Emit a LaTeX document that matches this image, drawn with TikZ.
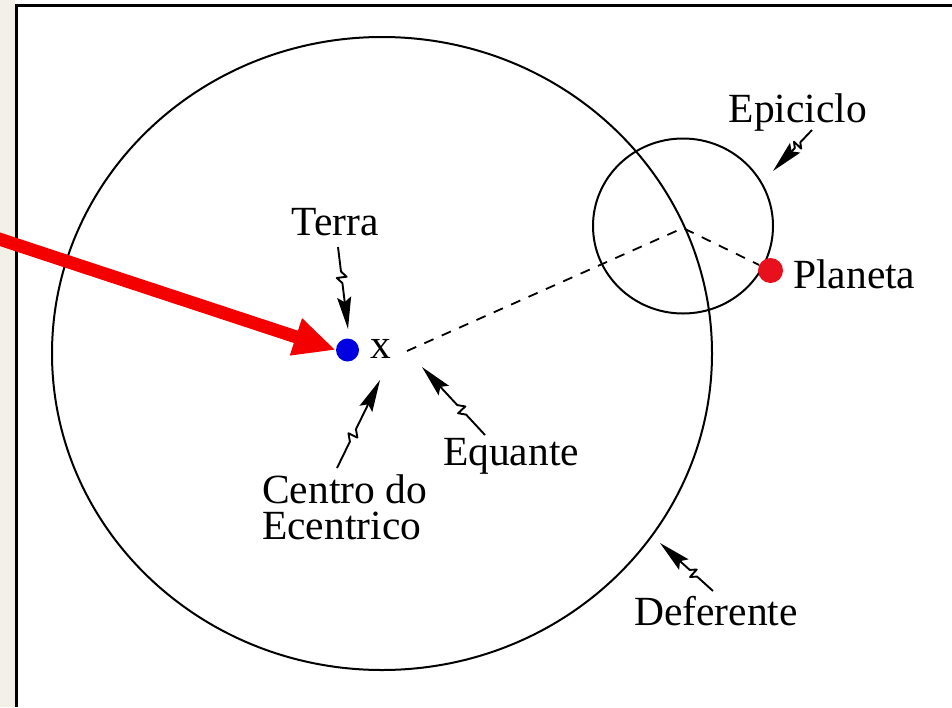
\documentclass[tikz,border=0pt]{standalone}
\usepackage{fontspec}
\setmainfont{Liberation Serif}
\usetikzlibrary{arrows.meta,calc}
\definecolor{stripbg}{RGB}{243,241,231}
\definecolor{earthblue}{RGB}{0,0,225}
\definecolor{planetred}{RGB}{232,16,28}
\definecolor{bigred}{RGB}{245,0,0}
\newcommand\zigarrow[2]{%
  \draw[zz] (#1) -- ($(#1)!0.30!(#2)$) -- ($(#1)!0.37!(#2)!5pt!90:(#2)$)
    -- ($(#1)!0.37!(#2)!5pt!-90:(#2)$) -- ($(#1)!0.44!(#2)$) -- (#2);}
\begin{document}
\begin{tikzpicture}[x=1pt,y=-1pt,
  lbl/.style={font=\fontsize{41.5}{46}\selectfont, inner sep=0pt, anchor=base},
  orbit/.style={line width=2pt, draw=black},
  dashline/.style={line width=1.8pt, dash pattern=on 10pt off 9pt},
  zz/.style={line width=1.9pt, line join=round, -{Stealth[length=32pt,width=14pt,inset=5pt]}},
  dot/.style={circle, inner sep=0pt}]
\useasboundingbox (0,0) rectangle (952,707);
\fill[stripbg] (0,0) rectangle (15,707);
\fill[white] (15,0) rectangle (952,707);
\draw[line width=3pt] (16.5,707) -- (16.5,5.5) -- (952,5.5);

% orbits
\draw[orbit] (382,353.5) ellipse [x radius=330, y radius=316.5];
\draw[orbit] (683,226) ellipse [x radius=90, y radius=87.5];

% points
\coordinate (eq) at (407,351);
\coordinate (epc) at (683,228);
\node[dot, fill=earthblue, minimum size=23pt] (terra) at (347.5,350) {};
\node[dot, fill=planetred, minimum size=25pt] (planeta) at (770.5,270.5) {};
\node[lbl] (eqx) at (381,358) {x};

\draw[dashline] (eq) -- (epc) -- (planeta);

% labels
\node[lbl] (terraL) at (335,235) {Terra};
\node[lbl] (epiL) at (798,122) {Epiciclo};
\node[lbl, anchor=base west] (planL) at (793,288) {Planeta};
\node[lbl] (equL) at (511,465) {Equante};
\node[lbl, anchor=north west, align=left, font=\fontsize{41.5}{36}\selectfont]
  (cen) at (262,474) {Centro do\\Ecentrico};
\node[lbl] (defL) at (716,625) {Deferente};

% label arrows
\coordinate (tTerra) at (338,247);  \coordinate (pTerra) at (348,329);
\coordinate (tCen) at (337,468);    \coordinate (pCen) at (380,380);
\coordinate (tEqu) at (485,435);    \coordinate (pEqu) at (422,367);
\coordinate (tEpi) at (812,130);    \coordinate (pEpi) at (773,171);
\coordinate (tDef) at (713,591);    \coordinate (pDef) at (660,543);
\zigarrow{tTerra}{pTerra}
\zigarrow{tCen}{pCen}
\zigarrow{tEqu}{pEqu}
\zigarrow{tEpi}{pEpi}
\zigarrow{tDef}{pDef}

% red pointer
\coordinate (redtail) at (-4,238);
\draw[bigred, line width=13pt, -{Triangle[length=42pt,width=36pt]}] (redtail) -- (terra.west);
\end{tikzpicture}
\end{document}
